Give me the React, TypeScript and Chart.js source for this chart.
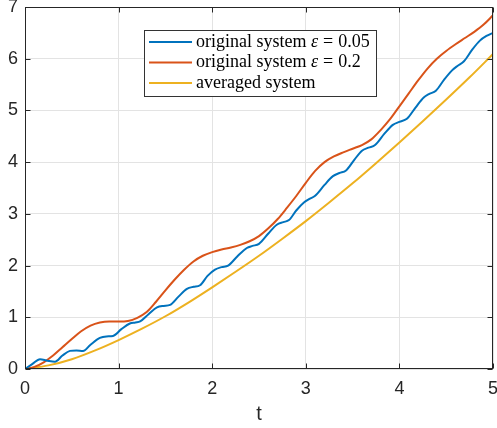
import { useEffect, useRef } from "react";
import { Chart, registerables } from "chart.js";

Chart.register(...registerables);

// ---- data ----
const xTicks = [0, 1, 2, 3, 4, 5];
const yTicks = [0, 1, 2, 3, 4, 5, 6, 7];
const xTitle = "t";

const seriesNames = ["original system", "original system", "averaged system"];
const seriesEps = ["0.05", "0.2", ""];
const seriesColors = ["#0072BD", "#D95319", "#EDB120"];

const blueT = [0, 0.08, 0.16, 0.24, 0.32, 0.40, 0.48, 0.55, 0.62, 0.70, 0.80, 0.87, 0.94, 1.03, 1.12, 1.18, 1.23, 1.32, 1.41, 1.48, 1.55, 1.64, 1.73, 1.80, 1.87, 1.95, 2.03, 2.10, 2.17, 2.27, 2.37, 2.43, 2.50, 2.60, 2.69, 2.76, 2.82, 2.90, 2.98, 3.04, 3.10, 3.20, 3.29, 3.36, 3.43, 3.52, 3.60, 3.67, 3.74, 3.84, 3.93, 4.00, 4.08, 4.17, 4.26, 4.32, 4.39, 4.48, 4.56, 4.62, 4.69, 4.78, 4.86, 4.93, 5.00];
const blueV = [0, 0.10, 0.19, 0.16, 0.14, 0.26, 0.35, 0.36, 0.35, 0.47, 0.60, 0.63, 0.64, 0.77, 0.88, 0.90, 0.92, 1.06, 1.19, 1.22, 1.24, 1.40, 1.55, 1.59, 1.62, 1.80, 1.92, 1.97, 2.00, 2.18, 2.34, 2.38, 2.42, 2.62, 2.79, 2.84, 2.88, 3.07, 3.22, 3.29, 3.35, 3.56, 3.73, 3.79, 3.84, 4.05, 4.22, 4.28, 4.33, 4.55, 4.72, 4.78, 4.84, 5.05, 5.25, 5.32, 5.38, 5.60, 5.77, 5.86, 5.95, 6.18, 6.35, 6.44, 6.50];

const redT = [0, 0.1, 0.2, 0.3, 0.4, 0.5, 0.6, 0.7, 0.8, 0.9, 1.0, 1.1, 1.2, 1.3, 1.4, 1.5, 1.6, 1.7, 1.8, 1.9, 2.0, 2.1, 2.2, 2.3, 2.4, 2.5, 2.6, 2.7, 2.8, 2.9, 3.0, 3.1, 3.2, 3.3, 3.4, 3.5, 3.6, 3.7, 3.8, 3.9, 4.0, 4.1, 4.2, 4.3, 4.4, 4.5, 4.6, 4.7, 4.8, 4.9, 5.0];
const redV = [0, 0.04, 0.13, 0.26, 0.42, 0.58, 0.73, 0.84, 0.90, 0.92, 0.92, 0.93, 0.99, 1.10, 1.30, 1.52, 1.73, 1.92, 2.08, 2.19, 2.26, 2.31, 2.35, 2.40, 2.47, 2.57, 2.72, 2.90, 3.12, 3.35, 3.60, 3.83, 4.00, 4.11, 4.19, 4.26, 4.33, 4.44, 4.62, 4.83, 5.08, 5.33, 5.58, 5.81, 6.00, 6.15, 6.28, 6.40, 6.52, 6.66, 6.84];

const avgT = [0, 0.25, 0.5, 0.75, 1.0, 1.25, 1.5, 1.75, 2.0, 2.25, 2.5, 2.75, 3.0, 3.25, 3.5, 3.75, 4.0, 4.25, 4.5, 4.75, 5.0];
const avgV = [0, 0.07, 0.19, 0.36, 0.56, 0.78, 1.02, 1.29, 1.58, 1.88, 2.19, 2.52, 2.86, 3.22, 3.59, 3.98, 4.38, 4.79, 5.21, 5.64, 6.09];

const AX = "#262626";

const toXY = (ts: number[], vs: number[]) => ts.map((t, i) => ({ x: t, y: vs[i] }));

const framePlugin = {
  id: "matlabFrame",
  afterDatasetsDraw(chart: any) {
    const { ctx, chartArea: a, scales } = chart;
    ctx.save();
    ctx.strokeStyle = AX;
    ctx.lineWidth = 1;
    const L = 5;
    const seg = (x1: number, y1: number, x2: number, y2: number) => {
      ctx.beginPath();
      ctx.moveTo(x1, y1);
      ctx.lineTo(x2, y2);
      ctx.stroke();
    };
    const l = Math.round(a.left) + 0.5;
    const r = Math.round(a.right) - 0.5;
    const t = Math.round(a.top) + 0.5;
    const b = Math.round(a.bottom) - 0.5;
    ctx.strokeRect(l, t, r - l, b - t);
    for (const v of xTicks) {
      const px = Math.round(scales.x.getPixelForValue(v)) + 0.5;
      seg(px, b, px, b - L);
      seg(px, t, px, t + L);
    }
    for (const v of yTicks) {
      const py = Math.round(scales.y.getPixelForValue(v)) + 0.5;
      seg(l, py, l + L, py);
      seg(r, py, r - L, py);
    }
    // legend
    const bx = 144.5, by = 30.5, bw = 232, bh = 66;
    ctx.fillStyle = "#ffffff";
    ctx.fillRect(bx, by, bw, bh);
    ctx.strokeStyle = "#333333";
    ctx.strokeRect(bx, by, bw, bh);
    const rowY = [42, 62.5, 83];
    const font = '"Liberation Serif", "DejaVu Serif", serif';
    ctx.textBaseline = "middle";
    ctx.textAlign = "left";
    for (let i = 0; i < seriesNames.length; i++) {
      const y = rowY[i];
      ctx.strokeStyle = seriesColors[i];
      ctx.lineWidth = 2;
      seg(149, y, 192, y);
      ctx.fillStyle = "#000000";
      let x = 196;
      ctx.font = `18px ${font}`;
      ctx.fillText(seriesNames[i], x, y);
      if (seriesEps[i]) {
        x += ctx.measureText(seriesNames[i] + " ").width;
        ctx.font = `italic 18px ${font}`;
        ctx.fillText("\u03B5", x, y);
        x += ctx.measureText("\u03B5").width + 5;
        ctx.font = `18px ${font}`;
        ctx.fillText("=", x, y);
        x += ctx.measureText("=").width + 5;
        ctx.fillText(seriesEps[i], x, y);
      }
    }
    ctx.restore();
  },
};

export default function App() {
  const ref = useRef<HTMLCanvasElement | null>(null);
  useEffect(() => {
    document.body.style.margin = "0";
    const canvas = ref.current;
    if (!canvas) return;
    const tickFont = { family: '"Liberation Sans", Arial, sans-serif', size: 18 };
    const chart = new Chart(canvas, {
      type: "line",
      data: {
        datasets: [
          { label: seriesNames[0], data: toXY(blueT, blueV), borderColor: seriesColors[0] },
          { label: seriesNames[1], data: toXY(redT, redV), borderColor: seriesColors[1] },
          { label: seriesNames[2], data: toXY(avgT, avgV), borderColor: seriesColors[2] },
        ].map((d) => ({ ...d, borderWidth: 2, pointRadius: 0, fill: false, cubicInterpolationMode: "monotone" as const })),
      },
      options: {
        animation: false,
        responsive: true,
        maintainAspectRatio: false,
        layout: { padding: { left: 0, right: 4, top: 7, bottom: 0 } },
        plugins: { legend: { display: false }, tooltip: { enabled: false } },
        scales: {
          x: {
            type: "linear",
            min: 0,
            max: 5,
            afterFit: (s: any) => { s.height = 59; s.paddingLeft = 0; s.paddingRight = 0; },
            afterBuildTicks: (s: any) => { s.ticks = xTicks.map((v) => ({ value: v })); },
            ticks: { color: AX, font: tickFont, padding: 9 },
            grid: { color: "#e3e3e3", drawTicks: false },
            border: { display: false },
            title: { display: true, text: xTitle, color: AX, font: { family: '"Liberation Sans", Arial, sans-serif', size: 20 }, padding: { top: 0, bottom: 2 } },
          },
          y: {
            type: "linear",
            min: 0,
            max: 7,
            afterFit: (s: any) => { s.width = 25; s.paddingTop = 0; s.paddingBottom = 0; },
            afterBuildTicks: (s: any) => { s.ticks = yTicks.map((v) => ({ value: v })); },
            ticks: { color: AX, font: tickFont, padding: 7 },
            grid: { color: "#e3e3e3", drawTicks: false },
            border: { display: false },
          },
        },
      },
      plugins: [framePlugin],
    });
    return () => chart.destroy();
  }, []);
  return (
    <div style={{ width: 497, height: 428, position: "relative" }}>
      <canvas ref={ref} />
    </div>
  );
}
